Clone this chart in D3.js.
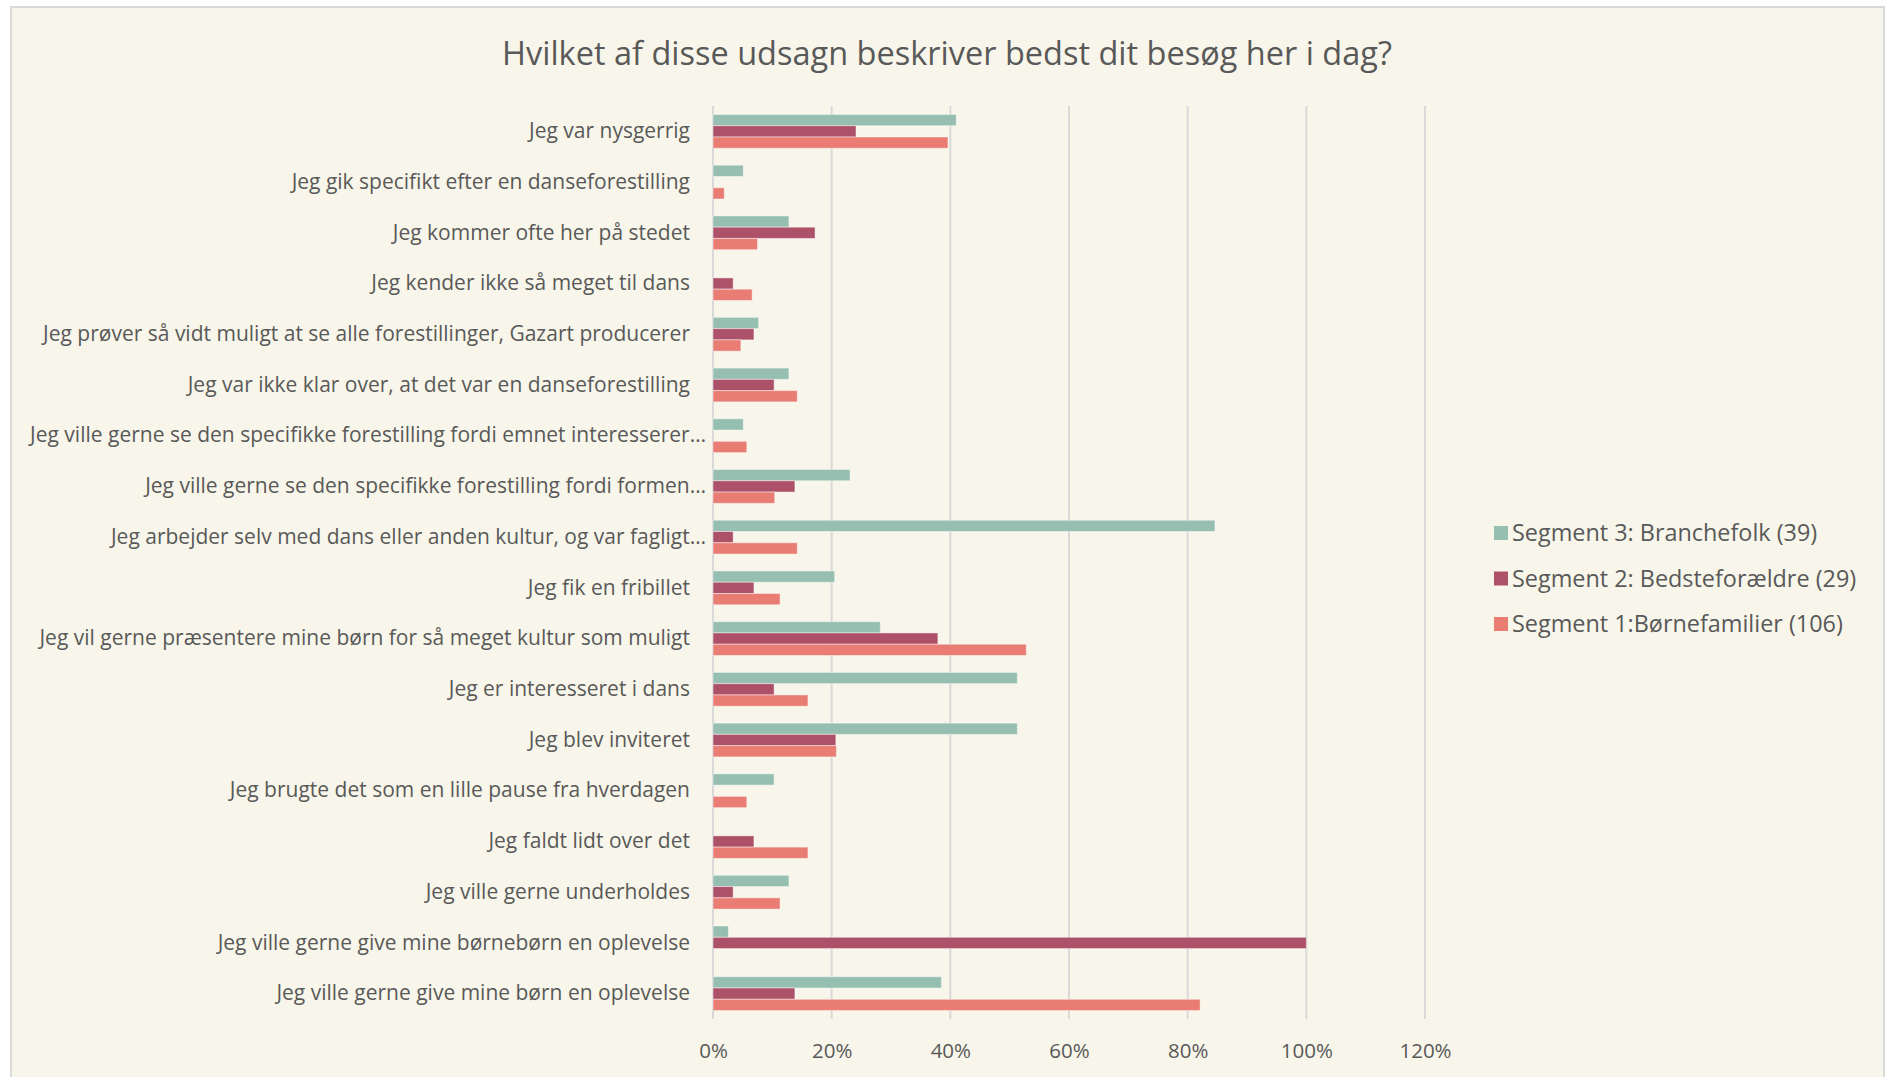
<!DOCTYPE html>
<html>
<head>
<meta charset="utf-8">
<script src="https://cdn.jsdelivr.net/npm/d3@7"></script>
<style>
  body { margin: 0; background: #ffffff; }
  text { fill: #595959; }
</style>
</head>
<body>
<div id="chart"></div>
<script>
const width = 1889, height = 1077;

const categories = [
  "Jeg var nysgerrig",
  "Jeg gik specifikt efter en danseforestilling",
  "Jeg kommer ofte her på stedet",
  "Jeg kender ikke så meget til dans",
  "Jeg prøver så vidt muligt at se alle forestillinger, Gazart producerer",
  "Jeg var ikke klar over, at det var en danseforestilling",
  "Jeg ville gerne se den specifikke forestilling fordi emnet interesserer…",
  "Jeg ville gerne se den specifikke forestilling fordi formen…",
  "Jeg arbejder selv med dans eller anden kultur, og var fagligt…",
  "Jeg fik en fribillet",
  "Jeg vil gerne præsentere mine børn for så meget kultur som muligt",
  "Jeg er interesseret i dans",
  "Jeg blev inviteret",
  "Jeg brugte det som en lille pause fra hverdagen",
  "Jeg faldt lidt over det",
  "Jeg ville gerne underholdes",
  "Jeg ville gerne give mine børnebørn en oplevelse",
  "Jeg ville gerne give mine børn en oplevelse"
];

const seriesNames = ["Segment 3: Branchefolk (39)", "Segment 2: Bedsteforældre (29)", "Segment 1:Børnefamilier (106)"];
const seriesColors = ["#97BFB1", "#AD5169", "#E97C73"];

// shares, one per category (top to bottom)
const branchefolk = [0.410, 0.051, 0.128, 0, 0.077, 0.128, 0.051, 0.231, 0.846, 0.205, 0.282, 0.513, 0.513, 0.103, 0, 0.128, 0.026, 0.385];
const bedsteforaeldre = [0.241, 0, 0.172, 0.034, 0.069, 0.103, 0, 0.138, 0.034, 0.069, 0.379, 0.103, 0.207, 0, 0.069, 0.034, 1.0, 0.138];
const boernefamilier = [0.396, 0.019, 0.075, 0.066, 0.047, 0.142, 0.057, 0.104, 0.142, 0.113, 0.528, 0.160, 0.208, 0.057, 0.160, 0.113, 0, 0.821];

const xTicks = [0, 0.2, 0.4, 0.6, 0.8, 1.0, 1.2];

const seriesValues = [branchefolk, bedsteforaeldre, boernefamilier];

const font = "'Open Sans', Lato, sans-serif";

const svg = d3.select("#chart").append("svg")
  .attr("width", width)
  .attr("height", height);

// chart area
svg.append("rect")
  .attr("x", 11).attr("y", 7)
  .attr("width", 1873).attr("height", height + 10)
  .attr("fill", "#F8F6EA")
  .attr("stroke", "#D9D9D9")
  .attr("stroke-width", 2);

svg.append("text")
  .attr("x", 947)
  .attr("y", 65)
  .attr("text-anchor", "middle")
  .style("font-family", font)
  .style("font-size", "32.5px")
  .text("Hvilket af disse udsagn beskriver bedst dit besøg her i dag?");

let x = d3.scaleLinear()
  .domain([0, 1.2])
  .range([713, 1425]);

let y = d3.scaleBand()
  .domain(categories)
  .range([106, 1019]);

// Excel gap width 50%
let groupH = y.bandwidth() / 1.5;
let y1 = d3.scaleBand()
  .domain(seriesNames)
  .range([0, groupH]);

// gridlines
svg.append("g")
  .selectAll("line")
  .data(xTicks)
  .enter().append("line")
  .attr("x1", d => x(d)).attr("x2", d => x(d))
  .attr("y1", 106).attr("y2", 1019)
  .attr("stroke", "#D9D9D9")
  .attr("stroke-width", 2);

// x tick labels
svg.append("g")
  .attr("transform", "translate(0, 1019)")
  .call(d3.axisBottom(x).tickValues(xTicks).tickFormat(d3.format(".0%")).tickSize(0).tickPadding(24))
  .call(g => g.select(".domain").remove())
  .selectAll("text")
  .style("font-family", font)
  .style("font-size", "20.5px")
  .style("fill", "#595959");

// bars
let groups = svg.append("g")
  .selectAll("g")
  .data(categories)
  .enter().append("g")
  .attr("transform", d => `translate(0, ${y(d) + (y.bandwidth() - groupH) / 2})`);

groups.selectAll("rect")
  .data((d, i) => seriesNames.map((s, j) => ({ s: s, v: seriesValues[j][i], c: seriesColors[j] })))
  .enter().append("rect")
  .attr("x", x(0))
  .attr("y", d => y1(d.s))
  .attr("width", d => x(d.v) - x(0))
  .attr("height", y1.bandwidth())
  .attr("fill", d => d.c)
  .attr("stroke", d => d.v > 0 ? "rgba(255,255,255,0.45)" : "none")
  .attr("stroke-width", 1);

// category labels
svg.append("g")
  .attr("transform", `translate(${x(0)}, 0)`)
  .call(d3.axisLeft(y).tickSize(0).tickPadding(23))
  .call(g => g.select(".domain").remove())
  .selectAll("text")
  .attr("dx", d => d.endsWith("…") ? 16 : 0)
  .style("font-family", font)
  .style("font-size", "21px")
  .style("fill", "#595959");

// legend
let legend = svg.append("g")
  .selectAll("g")
  .data(seriesNames)
  .enter().append("g")
  .attr("transform", (d, i) => `translate(1494, ${533 + i * 45.5})`);

legend.append("rect")
  .attr("x", 0).attr("y", -7)
  .attr("width", 14).attr("height", 14)
  .attr("fill", (d, i) => seriesColors[i]);

legend.append("text")
  .attr("x", 18)
  .attr("dy", "0.35em")
  .style("font-family", font)
  .style("font-size", "23.4px")
  .text(d => d);
</script>
</body>
</html>
